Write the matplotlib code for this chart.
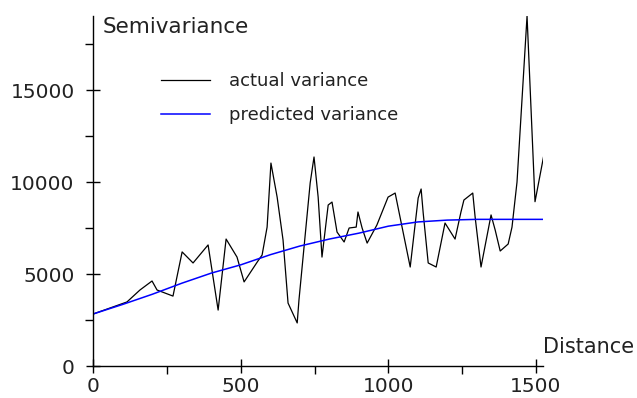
import matplotlib
matplotlib.use("Agg")
import matplotlib.pyplot as plt
from matplotlib.ticker import FixedLocator

# Actual (experimental) semivariance
actual_distance = [0, 114, 158, 199, 216, 270, 301, 338, 389, 423, 450, 487, 511,
                   558, 572, 589, 602, 623, 643, 660, 691, 697, 735, 748, 762, 775,
                   796, 809, 826, 850, 867, 891, 897, 911, 928, 961, 999, 1023, 1036,
                   1074, 1101, 1111, 1118, 1135, 1162, 1192, 1226, 1246, 1256, 1286,
                   1294, 1314, 1348, 1362, 1379, 1406, 1419, 1436, 1470, 1497, 1526]
actual_variance = [2830, 3480, 4130, 4620, 4130, 3800, 6200, 5600, 6580, 3040, 6900,
                   5920, 4570, 5710, 6030, 7550, 11030, 9180, 6850, 3420, 2340, 3590,
                   9950, 11360, 9180, 5920, 8750, 8910, 7280, 6740, 7500, 7550, 8370,
                   7500, 6680, 7660, 9180, 9400, 8370, 5380, 9130, 9620, 8320, 5600,
                   5380, 7770, 6900, 8370, 9020, 9400, 8100, 5380, 8210, 7390, 6250,
                   6630, 7550, 10000, 19020, 8930, 11380]

# Predicted (model) semivariance
pred_distance = [0, 100, 200, 300, 400, 500, 600, 700, 800, 900, 1000, 1100, 1200,
                 1300, 1400, 1525]
pred_variance = [2830, 3350, 3900, 4500, 5050, 5500, 6050, 6520, 6900, 7220, 7600,
                 7830, 7930, 7970, 7970, 7970]

x_major = [0, 500, 1000, 1500]
x_minor = [250, 750, 1250]
y_major = [0, 5000, 10000, 15000]
y_minor = [2500, 7500, 12500, 17500]

plt.rcParams['font.family'] = ['DejaVu Sans']

fig = plt.figure(figsize=(6.37, 3.98), dpi=100)
ax = fig.add_axes([0.1465, 0.0804, 0.7059, 0.8802])

ax.plot(actual_distance, actual_variance, color='black', lw=0.9, label='actual variance')
ax.plot(pred_distance, pred_variance, color='#0000ff', lw=1.1, label='predicted variance')

ax.set_xlim(0, 1524)
ax.set_ylim(0, 19040)

for s in ['top', 'right']:
    ax.spines[s].set_visible(False)
for s in ['left', 'bottom']:
    ax.spines[s].set_linewidth(1.0)
    ax.spines[s].set_color('black')

ax.xaxis.set_major_locator(FixedLocator(x_major))
ax.xaxis.set_minor_locator(FixedLocator(x_minor))
ax.yaxis.set_major_locator(FixedLocator(y_major))
ax.yaxis.set_minor_locator(FixedLocator(y_minor))
ax.set_xticklabels([str(v) for v in x_major])
ax.set_yticklabels([str(v) for v in y_major])

ax.tick_params(which='major', direction='inout', length=10, width=1.0,
               labelsize=14.5, colors='black', labelcolor='#222222')
ax.tick_params(axis='x', which='major', pad=3.0)
ax.tick_params(axis='y', which='major', pad=8.5)
ax.tick_params(which='minor', direction='out', length=5.8, width=1.0, colors='black')

fig.text(103 / 637, (398 - 33) / 398, 'Semivariance', fontsize=15.5,
         ha='left', va='baseline', color='#222222')
fig.text(543 / 637, (398 - 353) / 398, 'Distance', fontsize=15,
         ha='left', va='baseline', color='#222222')

leg = ax.legend(loc='center left', bbox_to_anchor=(161 / 637, (398 - 98) / 398),
                bbox_transform=fig.transFigure, frameon=False, fontsize=13,
                handlelength=2.74, handletextpad=1.0, labelspacing=0.9,
                borderpad=0, borderaxespad=0)
for t in leg.get_texts():
    t.set_color('#222222')

fig.savefig('out.png', dpi=100)
